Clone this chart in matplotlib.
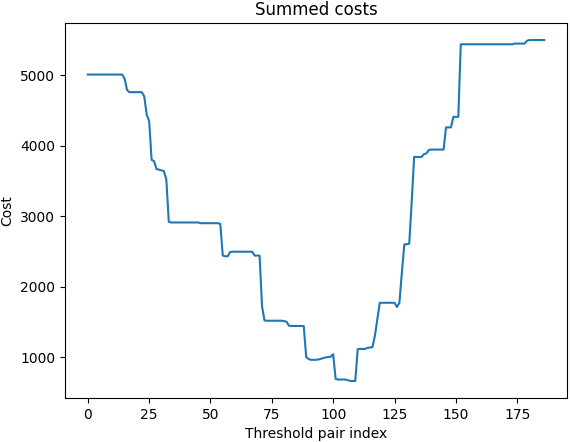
import matplotlib
matplotlib.use("Agg")
import matplotlib.pyplot as plt
import numpy as np

title = "Summed costs"
xlabel = "Threshold pair index"
ylabel = "Cost"

costs = [
    5010, 5010, 5010, 5010, 5010, 5010, 5010, 5010, 5010, 5010,   # 0-9
    5010, 5010, 5010, 5010, 5010, 4950, 4790, 4760, 4760, 4760,   # 10-19
    4760, 4760, 4760, 4700, 4440, 4350, 3800, 3780, 3670, 3660,   # 20-29
    3650, 3640, 3520, 2920, 2910, 2910, 2910, 2910, 2910, 2910,   # 30-39
    2910, 2910, 2910, 2910, 2910, 2910, 2900, 2900, 2900, 2900,   # 40-49
    2900, 2900, 2900, 2900, 2890, 2440, 2430, 2430, 2490, 2495,   # 50-59
    2495, 2495, 2495, 2495, 2495, 2495, 2495, 2495, 2440, 2440,   # 60-69
    2440, 1720, 1520, 1515, 1515, 1515, 1515, 1515, 1515, 1515,   # 70-79
    1510, 1500, 1445, 1440, 1440, 1440, 1440, 1440, 1440, 1000,   # 80-89
    970, 960, 960, 960, 965, 975, 985, 995, 1000, 1005,           # 90-99
    1040, 690, 680, 680, 680, 680, 670, 660, 660, 660,            # 100-109
    1110, 1115, 1115, 1115, 1130, 1135, 1140, 1300, 1530, 1770,   # 110-119
    1770, 1770, 1770, 1770, 1770, 1770, 1710, 1770, 2200, 2600,   # 120-129
    2600, 2610, 3200, 3840, 3840, 3840, 3840, 3880, 3890, 3940,   # 130-139
    3945, 3945, 3945, 3945, 3945, 3945, 4260, 4260, 4260, 4410,   # 140-149
    4410, 4410, 5440, 5440, 5440, 5440, 5440, 5440, 5440, 5440,   # 150-159
    5440, 5440, 5440, 5440, 5440, 5440, 5440, 5440, 5440, 5440,   # 160-169
    5440, 5440, 5440, 5440, 5450, 5450, 5450, 5450, 5450, 5490,   # 170-179
    5500, 5500, 5500, 5500, 5500, 5500, 5500,                     # 180-186
]

fig = plt.figure(figsize=(5.7, 4.42), dpi=100)
ax = fig.add_axes([65 / 570, 44 / 442, 502 / 570, 375 / 442])
ax.plot(np.arange(len(costs)), costs, color="#1f77b4", linewidth=1.5)
ax.set_title(title, fontsize=12)
ax.set_xlabel(xlabel, fontsize=10)
ax.set_ylabel(ylabel, fontsize=10)
ax.tick_params(labelsize=10)
fig.savefig("out.png", dpi=100)
